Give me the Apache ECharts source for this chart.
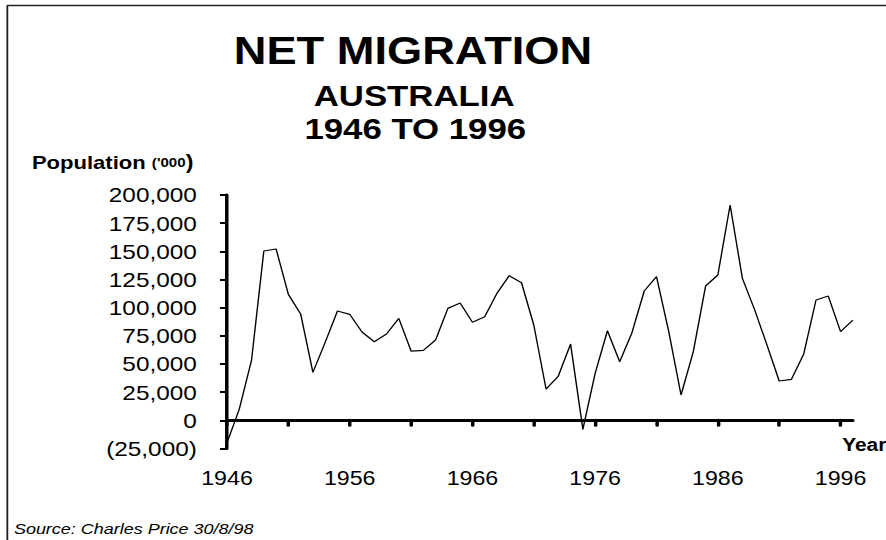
<!DOCTYPE html>
<html>
<head>
<meta charset="utf-8">
<script src="https://cdn.jsdelivr.net/npm/echarts@6/dist/echarts.min.js"></script>
<style>
    html, body { margin: 0; padding: 0; background: #fff; overflow: hidden; }
    /* the original figure is a bit wider than it is tall, so stretch horizontally */
    #main { width: 772px; height: 540px; transform: scaleX(1.16); transform-origin: 0 0; }
</style>
</head>
<body>
<div id="main"></div>
<script>
// years 1946..1997
let years = [];
for (let y = 1946; y <= 1997; y++) years.push(String(y));

// net migration, persons
let migration = [
    -20000, 10000, 53500, 150300, 152100, 111800, 94400, 42600, 69200, 97000,
    94100, 78400, 69800, 76600, 90500, 61500, 62100, 71300, 99400, 104100,
    87000, 92000, 112700, 128400, 122100, 84600, 27800, 39300, 67700, -8000,
    41700, 79500, 52000, 77800, 114800, 127500, 78700, 22500, 60900, 119200,
    129000, 191100, 126000, 98000, 67000, 34900, 36400, 58900, 106800, 110300,
    78700, 89000
];

let yTicks = { min: -25000, max: 200000, step: 25000 };

let myChart = echarts.init(document.getElementById('main'), null, { renderer: 'svg' });

function fmt(v) {
    let s = Math.abs(v).toString().replace(/\B(?=(\d{3})+(?!\d))/g, ',');
    return v < 0 ? '(' + s + ')' : s;
}

let font = '"Liberation Sans", Arial, sans-serif';

let option = {
    backgroundColor: '#fff',
    animation: false,
    textStyle: { fontFamily: font },
    grid: { left: 195.7, right: 36.8, top: 195, bottom: 91.5 },
    xAxis: {
        type: 'category',
        data: years,
        boundaryGap: false,
        axisLine: { onZero: true, lineStyle: { color: '#000', width: 3 } },
        axisTick: { interval: 4, length: 5, lineStyle: { color: '#000', width: 3, cap: 'round' } },
        axisLabel: { interval: 9, margin: 20, color: '#000', fontSize: 20, fontFamily: font },
        splitLine: { show: false }
    },
    yAxis: {
        type: 'value',
        min: yTicks.min,
        max: yTicks.max,
        interval: yTicks.step,
        axisLine: { show: true, onZero: false, lineStyle: { color: '#000', width: 3 } },
        axisTick: { show: true, length: 6, lineStyle: { color: '#000', width: 2 } },
        axisLabel: { margin: 26, color: '#000', fontSize: 21, fontFamily: font, formatter: fmt },
        splitLine: { show: false }
    },
    series: [{
        type: 'line',
        data: migration,
        symbol: 'none',
        lineStyle: { color: '#000', width: 1.2 }
    }],
    graphic: [
        // frame: only the top and left edges are visible
        {
            type: 'line',
            shape: { x1: 6, y1: 5.5, x2: 772, y2: 5.5 },
            style: { stroke: '#222', lineWidth: 1.6 },
            silent: true
        },
        {
            type: 'line',
            shape: { x1: 6.3, y1: 5.5, x2: 6.3, y2: 540 },
            style: { stroke: '#222', lineWidth: 1.6 },
            silent: true
        },
        {
            type: 'text', x: 356, y: 51,
            style: { text: 'NET MIGRATION', font: 'bold 39px ' + font, fill: '#000',
                align: 'center', verticalAlign: 'middle', textAlign: 'center', textVerticalAlign: 'middle' }
        },
        {
            type: 'text', x: 357, y: 96,
            style: { text: 'AUSTRALIA', font: 'bold 30px ' + font, fill: '#000',
                align: 'center', verticalAlign: 'middle', textAlign: 'center', textVerticalAlign: 'middle' }
        },
        {
            type: 'text', x: 358, y: 129,
            style: { text: '1946 TO 1996', font: 'bold 30px ' + font, fill: '#000',
                align: 'center', verticalAlign: 'middle', textAlign: 'center', textVerticalAlign: 'middle' }
        },
        {
            type: 'text', x: 27.5, y: 162,
            style: {
                text: '{a|Population }{b|(\'000}{c|)}',
                verticalAlign: 'middle', textVerticalAlign: 'middle',
                rich: {
                    a: { fontSize: 19, fontWeight: 'bold', fontFamily: font, fill: '#000', color: '#000' },
                    b: { fontSize: 13, fontWeight: 'bold', fontFamily: font, fill: '#000', color: '#000' },
                    c: { fontSize: 20, fontWeight: 'bold', fontFamily: font, fill: '#000', color: '#000' }
                }
            }
        },
        {
            type: 'text', x: 726, y: 445,
            style: { text: 'Year', font: 'bold 18px ' + font, fill: '#000',
                verticalAlign: 'middle', textVerticalAlign: 'middle' }
        },
        {
            type: 'text', x: 12, y: 529,
            style: { text: 'Source: Charles Price 30/8/98', font: 'italic 15.5px ' + font, fill: '#000',
                verticalAlign: 'middle', textVerticalAlign: 'middle' }
        }
    ]
};

if (option && typeof option === "object") {
    myChart.setOption(option, true);
}
</script>
</body>
</html>
